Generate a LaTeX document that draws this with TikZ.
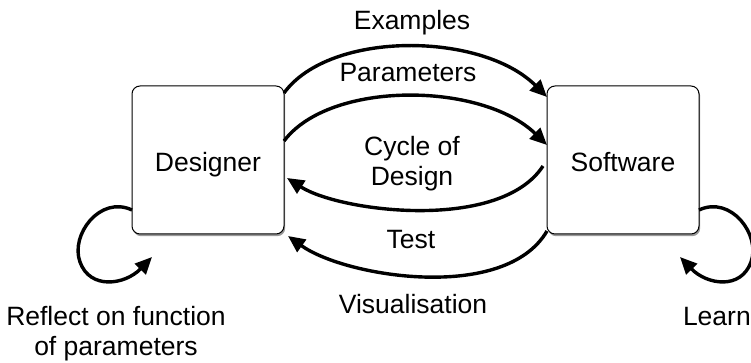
\documentclass[tikz,border=0pt]{standalone}
\usepackage{fontspec}
\setmainfont{Liberation Sans}
\usetikzlibrary{arrows.meta,shadows,calc}
\begin{document}
\begin{tikzpicture}[x=0.5pt,y=-0.5pt,
  lbl/.style={font=\fontsize{13.25pt}{15pt}\selectfont, inner sep=0pt, outer sep=0pt},
  box/.style={lbl, draw=black, line width=0.5pt, rounded corners=4pt, fill=white,
    minimum width=76pt, minimum height=74pt, text depth=0pt,
    drop shadow={shadow xshift=0.6pt, shadow yshift=-1.1pt, opacity=0.4, fill=black}},
  flow/.style={line width=1.7pt, -{Triangle[length=8.5pt,width=7.5pt]}}
]
\useasboundingbox (0,0) rectangle (751,363);
\node[box] (D) at (208,160) {\raisebox{-2pt}{Designer}};
\node[box] (S) at (623,160) {\raisebox{-2pt}{Software}};
\coordinate (dl) at (152,257);
\coordinate (sl) at (680,257);

\node[lbl, anchor=base] (ex) at (412,30) {Examples};
\node[lbl, anchor=base] (pa) at (408,82) {Parameters};
\node[lbl, align=center] (cy) at (412,164) {Cycle of\\Design};
\node[lbl, anchor=base] (te) at (411,249) {Test};
\node[lbl, anchor=base] (vi) at (413,314) {Visualisation};
\node[lbl, align=center] (re) at (116,334) {Reflect on function\\of parameters};
\node[lbl, anchor=base west] (le) at (683,326) {Learn};

\draw[flow] ($(D.north east)+(0,7)$) .. controls (330,30) and (482,32) .. ($(S.north west)+(0,11)$);
\draw[flow] ($(D.north east)+(0,55)$) .. controls (330,80) and (482,82) .. ($(S.north west)+(0,59)$);
\draw[flow] ($(S.north west)+(-4,80)$) .. controls (500,232) and (340,212) .. ($(D.north east)+(3,92)$);
\draw[flow] ($(S.south west)+(0,-3)$) .. controls (505,303) and (345,277) .. ($(D.south east)+(4,2)$);
\draw[flow] ($(D.south west)+(0,-24)$) .. controls (100,195) and (70,235) .. (80,262)
   .. controls (90,290) and (125,285) .. (dl);
\draw[flow] ($(S.south east)+(0,-24)$) .. controls (731,195) and (761,235) .. (751,262)
   .. controls (741,290) and (707,285) .. (sl);
\end{tikzpicture}
\end{document}
